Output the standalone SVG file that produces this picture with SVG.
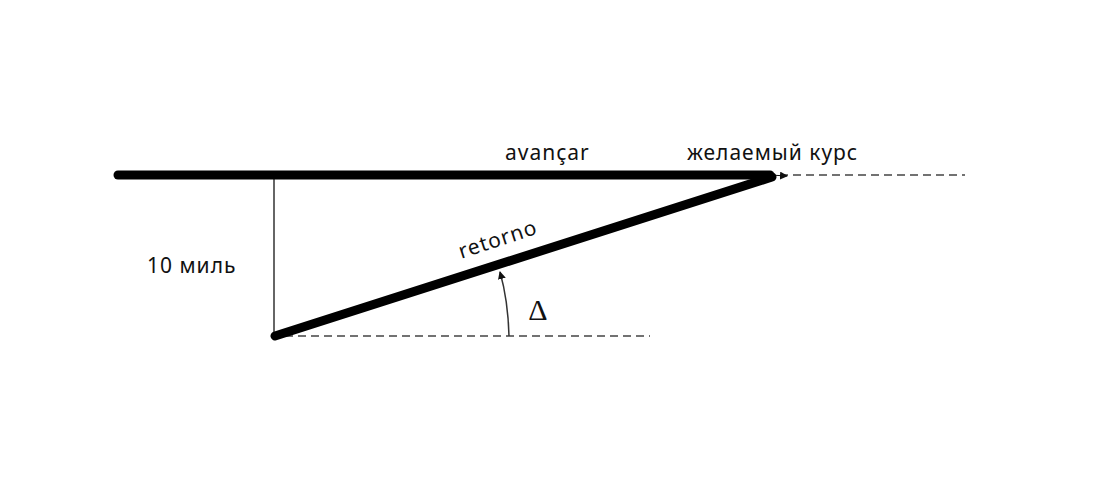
<svg xmlns="http://www.w3.org/2000/svg" width="1096" height="492" viewBox="0 0 1096 492">
<style>
.t{font-family:"Noto Sans","DejaVu Sans",sans-serif;font-size:21px;fill:#111;letter-spacing:1px}
.d{stroke:#444;stroke-width:1.5;stroke-dasharray:8 5;fill:none}
.thick{stroke:#000;stroke-width:9;stroke-linecap:round;fill:none}
</style>
<defs>
<marker id="ah" markerWidth="8" markerHeight="8" refX="7" refY="4" orient="auto" markerUnits="userSpaceOnUse">
<path d="M0,0 L8,4 L0,8 z" fill="#111"/>
</marker>
</defs>
<rect width="1096" height="492" fill="#fff"/>
<g id="connectors">
<line class="d" x1="780" y1="175" x2="965" y2="175"/>
<line class="d" x1="285" y1="336" x2="650" y2="336"/>
<line x1="274" y1="175" x2="274" y2="336" stroke="#333" stroke-width="1.5"/>
<line x1="770" y1="175" x2="787" y2="176" stroke="#111" stroke-width="1" marker-end="url(#ah)"/>
<path d="M509,336 Q508,300 500,272" stroke="#333" stroke-width="1.5" fill="none" marker-end="url(#ah)"/>
<line class="thick" x1="118" y1="175" x2="770" y2="175"/>
<line class="thick" x1="275" y1="336" x2="772" y2="177"/>
</g>
<g id="labels">
<text class="t" x="505" y="160">avançar</text>
<text class="t" x="687" y="160">желаемый курс</text>
<text class="t" x="147" y="273">10 миль</text>
<text class="t" x="500" y="246" text-anchor="middle" transform="rotate(-18 500 246)">retorno</text>
<text x="538" y="320" text-anchor="middle" font-family="Liberation Serif,serif" font-size="30" fill="#111">Δ</text>
</g>
</svg>
